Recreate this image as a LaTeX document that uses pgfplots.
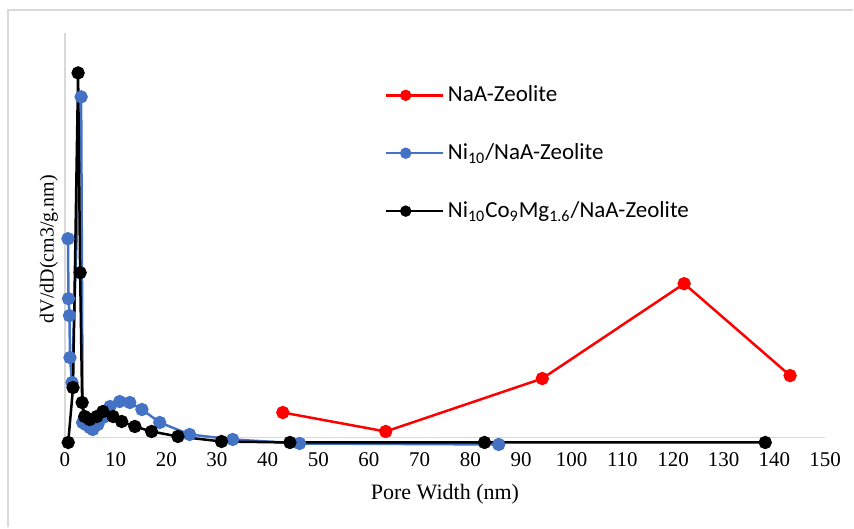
\documentclass[border=0pt]{standalone}
\usepackage{pgfplots}
\pgfplotsset{compat=1.18}
\usepackage{fontspec}
\setmainfont{Liberation Serif}
\newfontfamily\calibri{Carlito}
\definecolor{exblue}{RGB}{68,114,196}
\definecolor{axgray}{RGB}{217,217,217}
\begin{document}
\begin{tikzpicture}
\begin{axis}[
  name=ax,
  scale only axis,
  width=380.5pt, height=202.5pt,
  xmin=0, xmax=150, ymin=0, ymax=405,
  clip=false,
  axis x line=bottom, axis y line=left,
  axis line style={draw=axgray, line width=0.8pt, -},
  xtick={0,10,...,150}, ytick=\empty,
  major tick length=0pt,
  /pgf/number format/assume math mode=true,
  tick label style={font=\fontsize{10.5}{12}\selectfont},
  xticklabel style={yshift=-4pt},
  xlabel={Pore Width (nm)},
  xlabel style={font=\fontsize{11}{13}\selectfont, at={(0.5,0)}, yshift=-20pt, anchor=north},
  ylabel={dV/dD(cm3/g.nm)},
  ylabel style={font=\fontsize{10}{12}\selectfont, at={(0,0.5)}, xshift=-7pt, anchor=south},
  every axis plot/.append style={line width=1.25pt, mark=*, mark size=2.7pt},
  legend style={at={(0.412,0.89)}, anchor=north west, draw=none, fill=none,
    font=\calibri\fontsize{11.5}{13}\selectfont, row sep=15.5pt,
    /tikz/every even column/.append style={column sep=0pt}},
  legend cell align=left,
  legend image code/.code={\draw[#1, line width=1.25pt, mark size=2.2pt, mark repeat=2, mark phase=2] plot coordinates {(0pt,0pt) (10pt,0pt) (20pt,0pt)};
    \path (20pt,0pt) -- (28.5pt,0pt);},
]
\addplot[red, mark options={fill=red, draw=red}] coordinates {
 (43.0,25) (63.3,6) (94.2,59) (122.2,154) (143.1,62)};
\addlegendentry{NaA-Zeolite}
\addplot[exblue, mark options={fill=exblue, draw=exblue}] coordinates {
 (0.6,199) (0.7,139) (0.9,122) (1.0,80) (1.4,55) (3.2,341) (3.5,15) (4.1,13) (4.9,10) (5.5,8)
 (6.5,13) (7.5,20) (8.9,31) (10.8,36) (12.8,35) (15.2,28) (18.7,15) (24.6,3) (33.1,-2) (46.3,-6) (85.6,-7)};
\addlegendentry{Ni\textsubscript{10}/NaA-Zeolite}
\addplot[black, mark options={fill=black, draw=black}] coordinates {
 (0.65,-5) (1.6,50) (2.6,365) (3.0,165) (3.4,35) (3.9,21) (4.9,18) (6.3,21) (7.5,26) (9.5,21)
 (11.2,16) (13.8,11) (17.1,6) (22.3,1) (30.9,-4) (44.4,-5) (82.8,-5) (138.2,-5)};
\addlegendentry{Ni\textsubscript{10}Co\textsubscript{9}Mg\textsubscript{1.6}/NaA-Zeolite}
\end{axis}
\path ([xshift=-32.5pt,yshift=-45pt]ax.south west) rectangle ([xshift=14pt,yshift=16.5pt]ax.north east);
\draw[axgray, line width=1pt] ([xshift=-28.5pt,yshift=-45pt]ax.south west) -- ([xshift=-28.5pt,yshift=11.5pt]ax.north west) -- ([xshift=14pt,yshift=11.5pt]ax.north east);
\end{tikzpicture}
\end{document}
